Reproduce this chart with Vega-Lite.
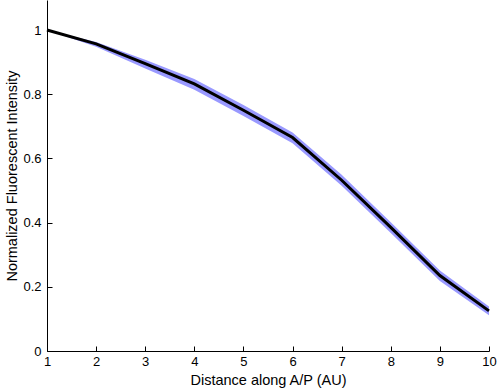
{
  "$schema": "https://vega.github.io/schema/vega-lite/v6.json",
  "width": 442,
  "height": 351,
  "autosize": {"type": "none"},
  "padding": {"left": 47, "top": 0, "right": 9, "bottom": 41},
  "background": "white",
  "config": {
    "view": {"stroke": null},
    "font": "Liberation Sans",
    "axis": {
      "domainColor": "black",
      "tickColor": "black",
      "labelColor": "black",
      "titleColor": "black",
      "labelFont": "Liberation Sans",
      "titleFont": "Liberation Sans",
      "labelFontSize": 13,
      "titleFontSize": 14.5,
      "titleFontWeight": "normal",
      "grid": false,
      "tickSize": -5,
      "domainWidth": 1,
      "tickWidth": 1
    }
  },
  "data": {
    "values": [
      {"x": 1, "y": 1.0, "lo": 1.0, "hi": 1.0},
      {"x": 2, "y": 0.957, "lo": 0.948, "hi": 0.963},
      {"x": 3, "y": 0.895, "lo": 0.880, "hi": 0.907},
      {"x": 4, "y": 0.832, "lo": 0.814, "hi": 0.847},
      {"x": 5, "y": 0.75, "lo": 0.732, "hi": 0.766},
      {"x": 6, "y": 0.665, "lo": 0.647, "hi": 0.681},
      {"x": 7, "y": 0.532, "lo": 0.515, "hi": 0.549},
      {"x": 8, "y": 0.385, "lo": 0.368, "hi": 0.401},
      {"x": 9, "y": 0.235, "lo": 0.218, "hi": 0.251},
      {"x": 10, "y": 0.125, "lo": 0.111, "hi": 0.139}
    ]
  },
  "encoding": {
    "x": {
      "field": "x",
      "type": "quantitative",
      "scale": {"domain": [1, 10], "nice": false, "zero": false},
      "axis": {
        "values": [1, 2, 3, 4, 5, 6, 7, 8, 9, 10],
        "format": "d",
        "title": "Distance along A/P (AU)",
        "labelPadding": 9,
        "titlePadding": 5,
        "labelFlush": false
      }
    }
  },
  "layer": [
    {
      "mark": {"type": "area", "color": "#9999ff", "opacity": 1},
      "encoding": {
        "y": {"field": "lo", "type": "quantitative"},
        "y2": {"field": "hi"}
      }
    },
    {
      "mark": {"type": "line", "color": "black", "strokeWidth": 3},
      "encoding": {
        "y": {
          "field": "y",
          "type": "quantitative",
          "scale": {"domain": [0, 1.0935], "nice": false},
          "axis": {
            "values": [0, 0.2, 0.4, 0.6, 0.8, 1],
            "format": ".1~f",
            "title": "Normalized Fluorescent Intensity",
            "labelPadding": 11,
            "titlePadding": 3
          }
        }
      }
    }
  ]
}
